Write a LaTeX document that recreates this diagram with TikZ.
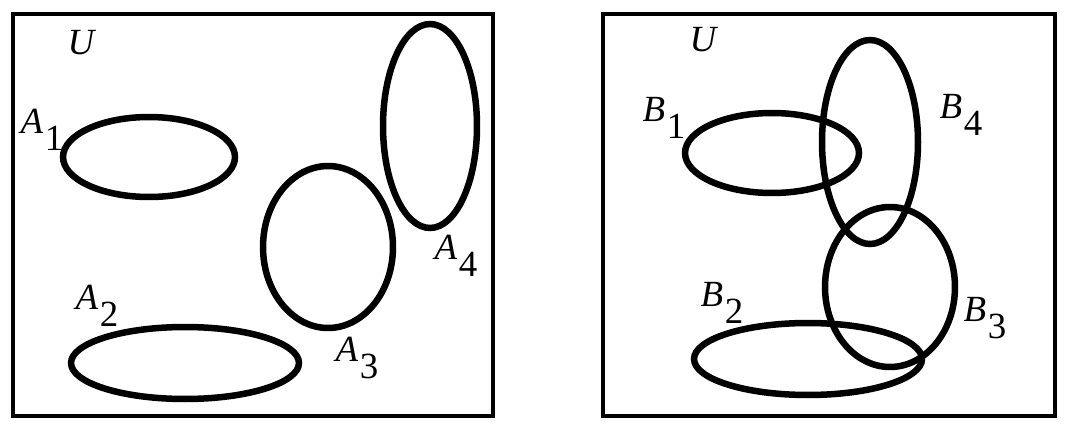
\documentclass[tikz,border=0pt]{standalone}
\usepackage{fontspec}
\setmainfont{Liberation Serif}
\newfontfamily\labfont{Liberation Serif}
\usetikzlibrary{shapes.geometric}
\newcommand{\setlab}[2]{\textit{#1}\kern1pt\raisebox{-0.45em}{#2}}
\begin{document}
\begin{tikzpicture}[x=0.02cm, y=-0.02cm,
setellipse/.style={ellipse, draw=black, line width=3.7pt, inner sep=0pt, outer sep=0pt},
univbox/.style={rectangle, draw=black, line width=2pt, inner sep=0pt, outer sep=0pt},
setlabel/.style={inner sep=0pt, font=\labfont\fontsize{21}{25}\selectfont},
]
\useasboundingbox (0,0) rectangle (1091,433);
% universe A
\node[univbox, minimum width=9.6cm, minimum height=8.04cm] (univA) at (253,215) {};
\node[setlabel] (uA) at (82,43) {\textit{U}};
\node[setellipse, minimum width=3.44cm, minimum height=1.6cm] (setA1) at (149,157) {};
\node[setellipse, minimum width=4.56cm, minimum height=1.44cm] (setA2) at (185,363) {};
\node[setellipse, minimum width=2.6cm, minimum height=3.24cm] (setA3) at (328,247) {};
\node[setellipse, minimum width=1.88cm, minimum height=4.08cm] (setA4) at (430,126) {};
\node[setlabel] (labA1) at (42,130) {\setlab{A}{1}};
\node[setlabel] (labA2) at (97,306) {\setlab{A}{2}};
\node[setlabel] (labA3) at (357,358) {\setlab{A}{3}};
\node[setlabel] (labA4) at (456,256) {\setlab{A}{4}};
% universe B
\node[univbox, minimum width=9.04cm, minimum height=8.04cm] (univB) at (829,215) {};
\node[setlabel] (uB) at (704,40) {\textit{U}};
\node[setellipse, minimum width=3.48cm, minimum height=1.6cm] (setB1) at (772,153) {};
\node[setellipse, minimum width=4.56cm, minimum height=1.44cm] (setB2) at (808,359) {};
\node[setellipse, minimum width=2.6cm, minimum height=3.2cm] (setB3) at (890,287) {};
\node[setellipse, minimum width=1.92cm, minimum height=4.08cm] (setB4) at (870,142) {};
\node[setlabel] (labB1) at (664,118) {\setlab{B}{1}};
\node[setlabel] (labB2) at (722,303) {\setlab{B}{2}};
\node[setlabel] (labB3) at (985,318) {\setlab{B}{3}};
\node[setlabel] (labB4) at (961,115) {\setlab{B}{4}};
\end{tikzpicture}
\end{document}
